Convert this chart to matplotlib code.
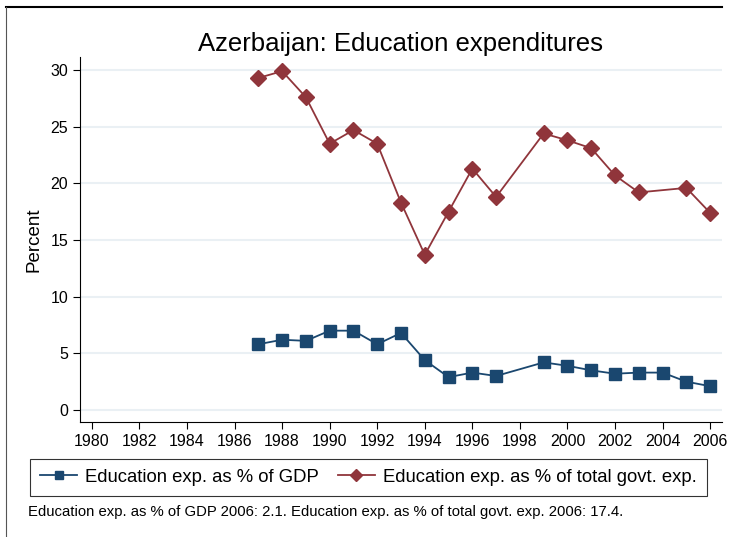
import matplotlib
matplotlib.use("Agg")
import matplotlib.pyplot as plt
from matplotlib.lines import Line2D
import numpy as np

plt.rcParams['font.family'] = ['Liberation Sans', 'DejaVu Sans']

# data (nan = no value)
years = [1987, 1988, 1989, 1990, 1991, 1992, 1993, 1994, 1995, 1996,
         1997, 1999, 2000, 2001, 2002, 2003, 2004, 2005, 2006]
gdp_share = [5.8, 6.2, 6.1, 7.0, 7.0, 5.8, 6.8, 4.4, 2.9, 3.3,
             3.0, 4.2, 3.9, 3.5, 3.2, 3.3, 3.3, 2.5, 2.1]
govt_share = [29.3, 29.9, 27.6, 23.5, 24.7, 23.5, 18.3, 13.7, 17.5, 21.3,
              18.8, 24.4, 23.8, 23.1, 20.7, 19.2, np.nan, 19.6, 17.4]
x_ticks = list(range(1980, 2007, 2))
y_ticks = [0, 5, 10, 15, 20, 25, 30]

navy = "#1a476f"
maroon = "#90353b"

fig = plt.figure(figsize=(7.31, 5.37), dpi=100)
ax = fig.add_axes([80 / 731, 1 - 422 / 537, 642 / 731, 365 / 537])

g = np.array(govt_share)
ok = ~np.isnan(g)
ax.plot(years, gdp_share, color=navy, marker="s", markersize=8, linewidth=1.3,
        label="Education exp. as % of GDP", zorder=3)
ax.plot(np.array(years)[ok], g[ok], color=maroon, marker="D", markersize=8,
        linewidth=1.3, label="Education exp. as % of total govt. exp.", zorder=3)

ax.set_xlim(1979.5, 2006.5)
ax.set_ylim(-1.06, 31.15)
ax.set_xticks(x_ticks)
ax.set_yticks(y_ticks)
ax.tick_params(labelsize=11.5, length=5, width=0.8, color="black")
ax.grid(axis="y", color="#eaf0f4", linewidth=1.5)
ax.set_axisbelow(True)
for s in ["top", "right"]:
    ax.spines[s].set_visible(False)
for s in ["left", "bottom"]:
    ax.spines[s].set_linewidth(0.8)
ax.set_ylabel("Percent", fontsize=13.5, labelpad=6)
ax.set_title("Azerbaijan: Education expenditures", fontsize=18.5, pad=4)

leg = fig.legend(loc="lower left", bbox_to_anchor=(30 / 731, 1 - 496 / 537),
                 ncol=2, fontsize=13.3, frameon=True, fancybox=False,
                 handlelength=2.0, handletextpad=0.45, columnspacing=1.0,
                 borderaxespad=0, markerscale=0.75, borderpad=0.55)
leg.get_frame().set_edgecolor("black")
leg.get_frame().set_linewidth(0.8)

fig.text(28 / 731, 1 - 512 / 537,
         "Education exp. as % of GDP 2006: 2.1. Education exp. as % of total govt. exp. 2006: 17.4.",
         fontsize=10.7, va="center", ha="left")

# outer frame (top and left edges)
fig.add_artist(Line2D([6 / 731, 722 / 731], [1 - 7 / 537, 1 - 7 / 537], color="black", linewidth=1.5))
fig.add_artist(Line2D([6 / 731, 6 / 731], [1 - 7 / 537, 0], color="#555555", linewidth=0.8))

fig.savefig("out.png", dpi=100)
